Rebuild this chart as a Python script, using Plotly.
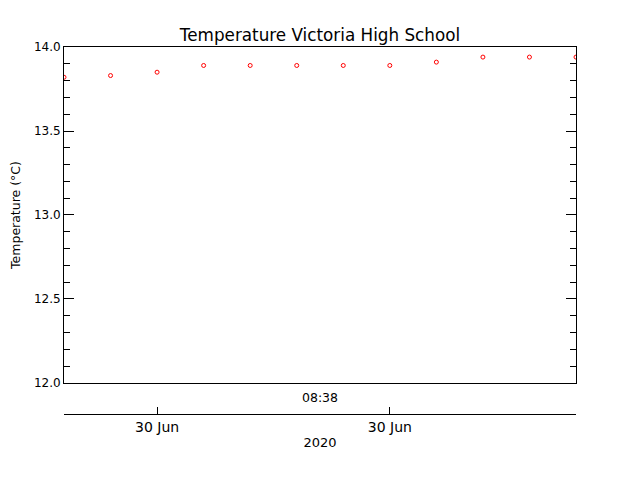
import plotly.graph_objects as go

# hourly samples, index along the time axis
sample = [0, 1, 2, 3, 4, 5, 6, 7, 8, 9, 10, 11]
temperature = [13.82, 13.83, 13.85, 13.89, 13.89, 13.89, 13.89, 13.89, 13.91, 13.94, 13.94, 13.94]

date_ticks = [2, 7]
date_labels = ["30 Jun", "30 Jun"]

font = dict(family="DejaVu Sans", size=12, color="black")

fig = go.Figure()
fig.add_trace(go.Scatter(
    x=sample, y=temperature, mode="markers",
    marker=dict(symbol="circle-open", size=4, color="red", line=dict(width=1, color="red")),
    showlegend=False,
))
# invisible trace to activate the lower date axis
fig.add_trace(go.Scatter(x=sample, y=temperature, xaxis="x2", mode="markers",
                         marker=dict(opacity=0), showlegend=False, hoverinfo="skip"))

# page body adds an 8px offset, so margins are shifted by that amount
fig.update_layout(
    width=640, height=480,
    margin=dict(l=56, r=72, t=39, b=74),
    plot_bgcolor="white", paper_bgcolor="white",
    font=font,
    title=dict(text="Temperature Victoria High School", x=0.5, xref="paper", y=0.944,
               xanchor="center", yanchor="middle", font=dict(size=16.8)),
    xaxis=dict(range=[0, 11], showline=True, linecolor="black", linewidth=1, mirror=True,
               showgrid=False, zeroline=False, showticklabels=False, ticks="",
               anchor="y", automargin=False,
               title=dict(text="08:38", standoff=10, font=dict(size=12.5))),
    xaxis2=dict(range=[0, 11], overlaying="x", anchor="free", position=0, side="bottom",
                showline=True, linecolor="black", linewidth=1, showgrid=False, zeroline=False,
                tickvals=date_ticks, ticktext=date_labels, ticks="inside", ticklen=7,
                tickcolor="black", tickfont=dict(size=14), automargin=False,
                title=dict(text="2020", standoff=4, font=dict(size=13))),
    yaxis=dict(range=[12.0, 14.0], domain=[0.0845, 1], dtick=0.5, tickformat=".1f",
               showline=True, linecolor="black", linewidth=1, mirror="ticks",
               showgrid=False, zeroline=False, ticks="inside", ticklen=10, tickcolor="black",
               minor=dict(dtick=0.1, ticks="inside", ticklen=6, tickcolor="black", showgrid=False),
               automargin=False,
               title=dict(text="Temperature (°C)", standoff=10, font=dict(size=12.5))),
)

fig.write_html("out.html")
